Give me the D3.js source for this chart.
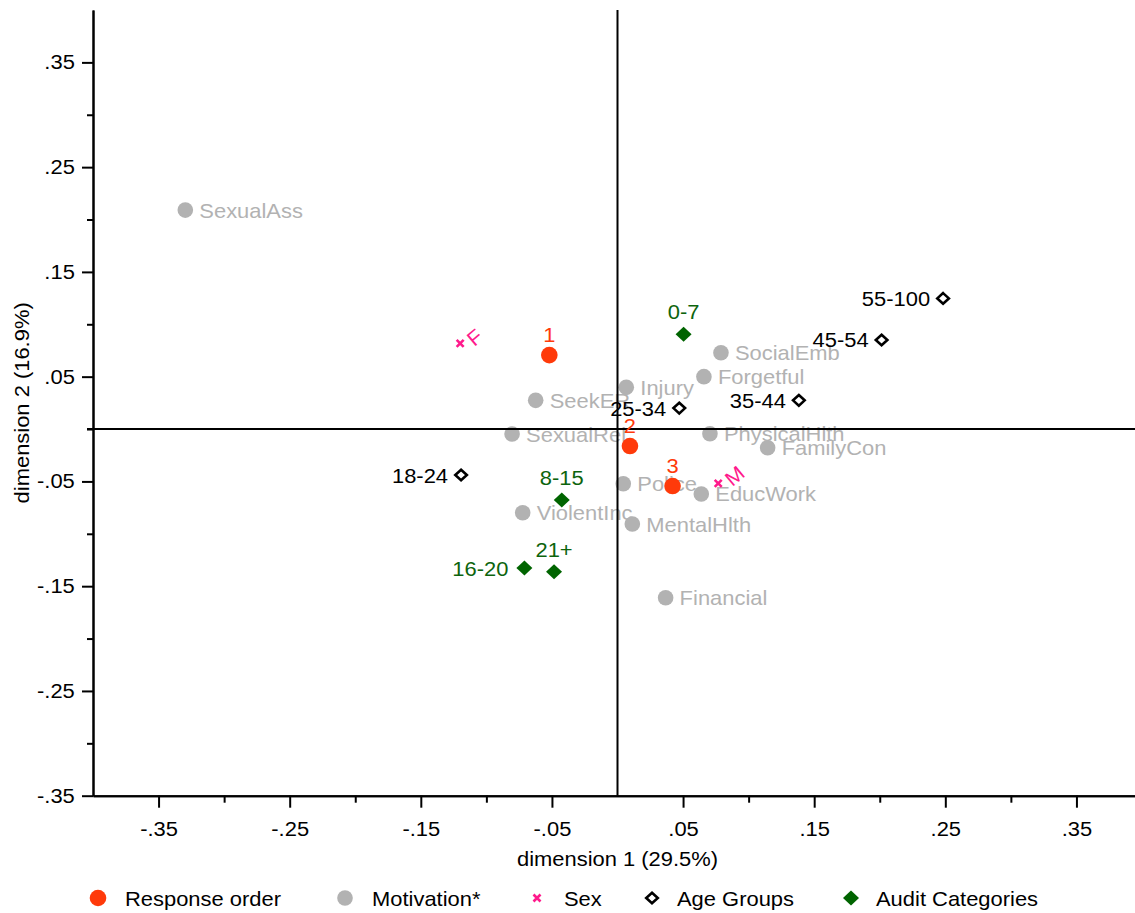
<!DOCTYPE html>
<html>
<head>
<meta charset="utf-8">
<script src="https://cdn.jsdelivr.net/npm/d3@7"></script>
<style>
  html, body { margin: 0; padding: 0; background: #fff; }
  svg { display: block; font-family: "Liberation Sans", Arial, Helvetica, sans-serif; }
</style>
</head>
<body>
<svg id="chart" width="1135" height="913"></svg>
<script>
// ---------- data ----------
const respLabels = ["1", "2", "3"];
const respX = [-0.052, 0.0095, 0.042];
const respY = [0.0706, -0.0162, -0.0544];

const motivLabels = ["SexualAss", "SocialEmb", "Forgetful", "Injury", "SeekER", "SexualRel", "PhysicalHlth",
  "FamilyCon", "Police", "EducWork", "ViolentInc", "MentalHlth", "Financial"];
const motivX = [-0.3296, 0.0789, 0.0659, 0.0067, -0.0624, -0.0804, 0.0705, 0.1145, 0.0044, 0.0639, -0.0723, 0.0113, 0.0367];
const motivY = [0.209, 0.0728, 0.050, 0.0398, 0.0274, -0.0048, -0.0045, -0.0178, -0.0522, -0.062, -0.0799, -0.0907, -0.161];

const sexLabels = ["F", "M"];
const sexX = [-0.120, 0.0768];
const sexY = [0.0818, -0.0518];

const ageLabels = ["55-100", "45-54", "35-44", "25-34", "18-24"];
const ageX = [0.2483, 0.2014, 0.1383, 0.0471, -0.1193];
const ageY = [0.1247, 0.085, 0.0274, 0.020, -0.0439];

const auditLabels = ["0-7", "8-15", "16-20", "21+"];
const auditX = [0.0504, -0.0425, -0.0710, -0.0484];
const auditY = [0.0904, -0.0678, -0.1327, -0.1362];
const auditLabelSide = ["top", "top", "left", "top"];

const majorTicks = [-0.35, -0.25, -0.15, -0.05, 0.05, 0.15, 0.25, 0.35];
const xMinorTicks = [-0.3, -0.2, -0.1, 0.1, 0.2, 0.3];
const yMinorTicks = [-0.3, -0.2, -0.1, 0.0, 0.1, 0.2, 0.3];

const legendLabels = ["Response order", "Motivation*", "Sex", "Age Groups", "Audit Categories"];
const xTitle = "dimension 1 (29.5%)";
const yTitle = "dimension 2 (16.9%)";

// ---------- styles ----------
const RED = "#ff3a0a", GRAY = "#b2b2b2", PINK = "#ff1a8c", GREEN = "#006400", GREEN_TXT = "#0d640d";
const FS = 20.5, SX = 1.07;

const svg = d3.select("#chart");
const x = d3.scaleLinear().domain([-0.4, 0.4]).range([93, 1142]);
const y = d3.scaleLinear().domain([-0.35, 0.4]).range([795.7, 10]);

const fmt = v => (v < 0 ? "-" : "") + Math.abs(v).toFixed(2).replace(/^0/, "");

function txt(g, px, py, s, anchor, fill, extra) {
  return g.append("text")
    .attr("transform", `translate(${px},${py})${extra || ""} scale(${SX},1)`)
    .attr("text-anchor", anchor)
    .attr("font-size", FS)
    .attr("fill", fill)
    .text(s);
}

// ---------- axes ----------
const gx = svg.append("g").attr("transform", `translate(0,${y(-0.35)})`);
gx.call(d3.axisBottom(x).tickValues(majorTicks).tickFormat(fmt).tickSize(12).tickPadding(14).tickSizeOuter(0));
const gxm = svg.append("g").attr("transform", `translate(0,${y(-0.35)})`);
gxm.call(d3.axisBottom(x).tickValues(xMinorTicks).tickFormat("").tickSize(7).tickSizeOuter(0));

const gy = svg.append("g").attr("transform", `translate(${x(-0.4)},0)`);
gy.call(d3.axisLeft(y).tickValues(majorTicks).tickFormat(fmt).tickSize(11).tickPadding(6).tickSizeOuter(0));
const gym = svg.append("g").attr("transform", `translate(${x(-0.4)},0)`);
gym.call(d3.axisLeft(y).tickValues(yMinorTicks).tickFormat("").tickSize(6).tickSizeOuter(0));

[gx, gxm, gy, gym].forEach(g => {
  g.selectAll("path.domain").attr("stroke", "#000").attr("stroke-width", 2);
  g.selectAll(".tick line").attr("stroke", "#000").attr("stroke-width", 2);
  g.selectAll(".tick text").attr("font-size", FS).attr("fill", "#000")
    .attr("font-family", "Liberation Sans, Arial, sans-serif")
    .attr("transform", `scale(${SX},1)`);
});

// axis titles
txt(svg, (x(-0.4) + x(0.4)) / 2, 866, xTitle, "middle", "#000");
txt(svg, 29, (y(-0.35) + y(0.4)) / 2, yTitle, "middle", "#000", " rotate(-90)");

// ---------- motivation (drawn first) ----------
const gm = svg.append("g");
motivLabels.forEach((l, i) => {
  gm.append("circle").attr("cx", x(motivX[i])).attr("cy", y(motivY[i])).attr("r", 7.8).attr("fill", GRAY);
  txt(gm, x(motivX[i]) + 14, y(motivY[i]) + 7.5, l, "start", GRAY);
});

// ---------- zero reference lines ----------
svg.append("line").attr("x1", x(-0.4) - 6).attr("x2", x(0.4)).attr("y1", y(0)).attr("y2", y(0))
  .attr("stroke", "#000").attr("stroke-width", 2);
svg.append("line").attr("x1", x(0)).attr("x2", x(0)).attr("y1", y(0.4)).attr("y2", y(-0.35))
  .attr("stroke", "#000").attr("stroke-width", 2);

// ---------- response order ----------
const gr = svg.append("g");
respLabels.forEach((l, i) => {
  gr.append("circle").attr("cx", x(respX[i])).attr("cy", y(respY[i])).attr("r", 8.3).attr("fill", RED);
  txt(gr, x(respX[i]), y(respY[i]) - 13.5, l, "middle", RED);
});

// ---------- sex ----------
const xMark = (g, cx, cy, s, col) => {
  g.append("path").attr("d", `M${cx - s},${cy - s}L${cx + s},${cy + s}M${cx - s},${cy + s}L${cx + s},${cy - s}`)
    .attr("stroke", col).attr("stroke-width", 2.6).attr("fill", "none");
};
const gs = svg.append("g");
sexLabels.forEach((l, i) => {
  xMark(gs, x(sexX[i]), y(sexY[i]), 3.5, PINK);
  txt(gs, x(sexX[i]) + 14, y(sexY[i]) + 4, l, "start", PINK, " rotate(-40)");
});

// ---------- age groups ----------
const diamond = (g, cx, cy, w, h, fill, stroke, sw) => {
  g.append("path").attr("d", `M${cx},${cy - h}L${cx + w},${cy}L${cx},${cy + h}L${cx - w},${cy}Z`)
    .attr("fill", fill).attr("stroke", stroke).attr("stroke-width", sw);
};
const ga = svg.append("g");
ageLabels.forEach((l, i) => {
  diamond(ga, x(ageX[i]), y(ageY[i]), 5.8, 5.3, "#fff", "#000", 2.6);
  txt(ga, x(ageX[i]) - 13, y(ageY[i]) + 7.5, l, "end", "#000");
});

// ---------- audit categories ----------
const gau = svg.append("g");
auditLabels.forEach((l, i) => {
  const cx = x(auditX[i]), cy = y(auditY[i]);
  diamond(gau, cx, cy, 8, 7.5, GREEN, "none", 0);
  if (auditLabelSide[i] === "left") txt(gau, cx - 16, cy + 7.5, l, "end", GREEN_TXT);
  else txt(gau, cx, cy - 15, l, "middle", GREEN_TXT);
});

// ---------- legend ----------
const lg = svg.append("g");
const ly = 898;
const legendMarkX = [98, 345, 537, 652, 851];
const legendTextX = [125, 372, 564, 677, 876];
lg.append("circle").attr("cx", legendMarkX[0]).attr("cy", ly).attr("r", 8.3).attr("fill", RED);
lg.append("circle").attr("cx", legendMarkX[1]).attr("cy", ly).attr("r", 7.8).attr("fill", GRAY);
xMark(lg, legendMarkX[2], ly, 3.5, PINK);
diamond(lg, legendMarkX[3], ly, 5.8, 5.3, "#fff", "#000", 2.6);
diamond(lg, legendMarkX[4], ly, 8, 7.5, GREEN, "none", 0);
legendLabels.forEach((l, i) => txt(lg, legendTextX[i], ly + 7.5, l, "start", "#000"));
</script>
</body>
</html>
